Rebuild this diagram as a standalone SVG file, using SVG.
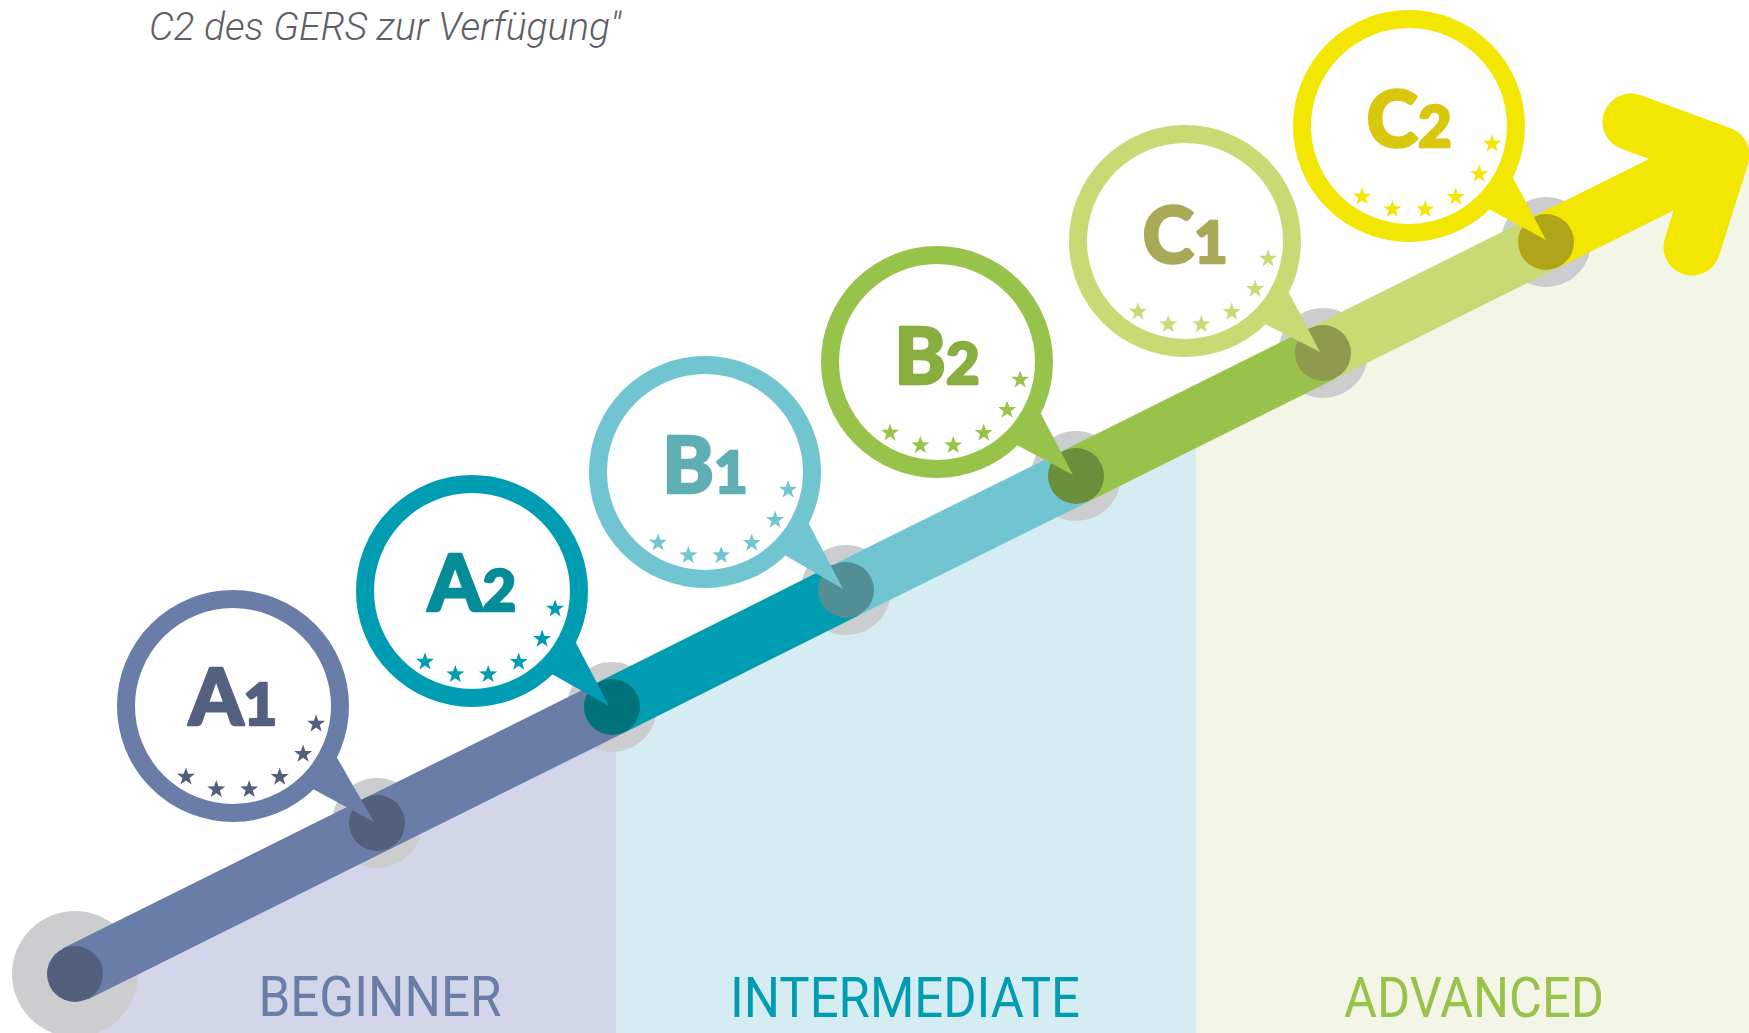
<svg xmlns="http://www.w3.org/2000/svg" xmlns:xlink="http://www.w3.org/1999/xlink" width="1749" height="1033" viewBox="0 0 1749 1033">
<style>
.halo{fill:#cccdcf}
.seg{fill:none;stroke-width:57;stroke-linecap:butt}
.ring{fill:#fff;stroke-width:18}
.lbl{font-family:"Lato","Liberation Sans",sans-serif;font-weight:900;font-size:78px;text-anchor:middle;stroke-width:2.5;stroke-linejoin:round}
.dig{font-size:58px}
.band{font-family:Roboto,"Liberation Sans",sans-serif;font-weight:400;font-size:56px;text-anchor:middle}
</style>
<defs>
<path id="star" d="M0,-9.5 L2.23,-3.07 L9.03,-2.94 L3.61,1.17 L5.58,7.69 L0,3.8 L-5.58,7.69 L-3.61,1.17 L-9.03,-2.94 L-2.23,-3.07 Z"/>
<g id="stars">
<use xlink:href="#star" x="83.1" y="17.8"/>
<use xlink:href="#star" x="70.1" y="48"/>
<use xlink:href="#star" x="46.7" y="71"/>
<use xlink:href="#star" x="16.2" y="83.4"/>
<use xlink:href="#star" x="-16.7" y="83.4"/>
<use xlink:href="#star" x="-47" y="70.8"/>
</g>
</defs>
<rect width="1749" height="1033" fill="#fff"/>
<g id="bands">
<polygon points="75,974 616,704.4 616,1033 75,1033" fill="#d3d6e8"/>
<polygon points="616,704.4 1196,415.4 1196,1033 616,1033" fill="#d5ecf2"/>
<polygon points="1196,415.4 1749,139.8 1749,1033 1196,1033" fill="#f3f6e6"/>
</g>
<text x="149" y="40" font-family="Roboto,'Liberation Sans',sans-serif" font-weight="300" font-style="italic" font-size="39" fill="#5d5e66" textLength="472" lengthAdjust="spacingAndGlyphs">C2 des GERS zur Verfügung"</text>
<g id="halos">
<circle class="halo" cx="75" cy="974" r="63"/>
<circle class="halo" cx="377" cy="823" r="45"/>
<circle class="halo" cx="612" cy="707" r="45"/>
<circle class="halo" cx="846" cy="590" r="45"/>
<circle class="halo" cx="1076" cy="476" r="45"/>
<circle class="halo" cx="1323" cy="353" r="45"/>
<circle class="halo" cx="1546" cy="242" r="45"/>
</g>
<g id="connectors">
<line class="seg" x1="75" y1="974" x2="612" y2="707" stroke="#6a7da8"/>
<line class="seg" x1="612" y1="707" x2="846" y2="590" stroke="#009cb1"/>
<line class="seg" x1="846" y1="590" x2="1076" y2="476" stroke="#70c5d0"/>
<line class="seg" x1="1076" y1="476" x2="1323" y2="353" stroke="#98c34a"/>
<line class="seg" x1="1323" y1="353" x2="1546" y2="242" stroke="#c9da75"/>
<line class="seg" x1="1546" y1="242" x2="1721" y2="155" stroke="#f3e600"/>
<polyline points="1631,122 1721,155 1692,247" fill="none" stroke="#f3e600" stroke-width="57" stroke-linecap="round" stroke-linejoin="round"/>
</g>
<g id="start"><circle cx="75" cy="974" r="28" fill="#525f7d"/></g>
<g id="A1">
<circle cx="377" cy="823" r="28" fill="#525f7d"/>
<circle class="ring" cx="233" cy="706" r="107" stroke="#6a7da8"/>
<polygon points="311,788 336,756 374,822" fill="#6a7da8"/>
<use xlink:href="#stars" x="233" y="706" fill="#525f7d"/>
<text class="lbl" x="233" y="725" fill="#536080" stroke="#536080">A<tspan class="dig">1</tspan></text>
</g>
<g id="A2">
<circle cx="612" cy="707" r="28" fill="#00727c"/>
<circle class="ring" cx="472" cy="591" r="107" stroke="#009cb1"/>
<polygon points="550,673 575,641 609,706" fill="#009cb1"/>
<use xlink:href="#stars" x="472" y="591" fill="#009cb1"/>
<text class="lbl" x="472" y="611" fill="#058c99" stroke="#058c99">A<tspan class="dig">2</tspan></text>
</g>
<g id="B1">
<circle cx="846" cy="590" r="28" fill="#518f94"/>
<circle class="ring" cx="705" cy="472" r="107" stroke="#70c5d0"/>
<polygon points="783,554 808,522 843,589" fill="#70c5d0"/>
<use xlink:href="#stars" x="705" y="472" fill="#70c5d0"/>
<text class="lbl" x="705" y="493" fill="#5eaeb3" stroke="#5eaeb3">B<tspan class="dig">1</tspan></text>
</g>
<g id="B2">
<circle cx="1076" cy="476" r="28" fill="#6a8e3c"/>
<circle class="ring" cx="937" cy="362" r="107" stroke="#98c34a"/>
<polygon points="1015,444 1040,412 1073,475" fill="#98c34a"/>
<use xlink:href="#stars" x="937" y="362" fill="#98c34a"/>
<text class="lbl" x="937" y="384" fill="#88ae40" stroke="#88ae40">B<tspan class="dig">2</tspan></text>
</g>
<g id="C1">
<circle cx="1323" cy="353" r="28" fill="#8f9a4f"/>
<circle class="ring" cx="1185" cy="241" r="107" stroke="#c9da75"/>
<polygon points="1263,323 1288,291 1320,352" fill="#c9da75"/>
<use xlink:href="#stars" x="1185" y="241" fill="#c9da75"/>
<text class="lbl" x="1185" y="263" fill="#a8aa58" stroke="#a8aa58">C<tspan class="dig">1</tspan></text>
</g>
<g id="C2">
<circle cx="1546" cy="242" r="28" fill="#b0a418"/>
<circle class="ring" cx="1409" cy="126" r="107" stroke="#f3e600"/>
<polygon points="1487,208 1512,176 1546,240" fill="#f3e600"/>
<use xlink:href="#stars" x="1409" y="126" fill="#f3e600"/>
<text class="lbl" x="1409" y="147" fill="#d9c70e" stroke="#d9c70e">C<tspan class="dig">2</tspan></text>
</g>
<g id="labels">
<text class="band" x="380" y="1016" fill="#6a7da8" textLength="243" lengthAdjust="spacingAndGlyphs">BEGINNER</text>
<text class="band" x="905" y="1017" fill="#009cb1" textLength="350" lengthAdjust="spacingAndGlyphs">INTERMEDIATE</text>
<text class="band" x="1474" y="1017" fill="#98c34a" textLength="260" lengthAdjust="spacingAndGlyphs">ADVANCED</text>
</g>
</svg>
